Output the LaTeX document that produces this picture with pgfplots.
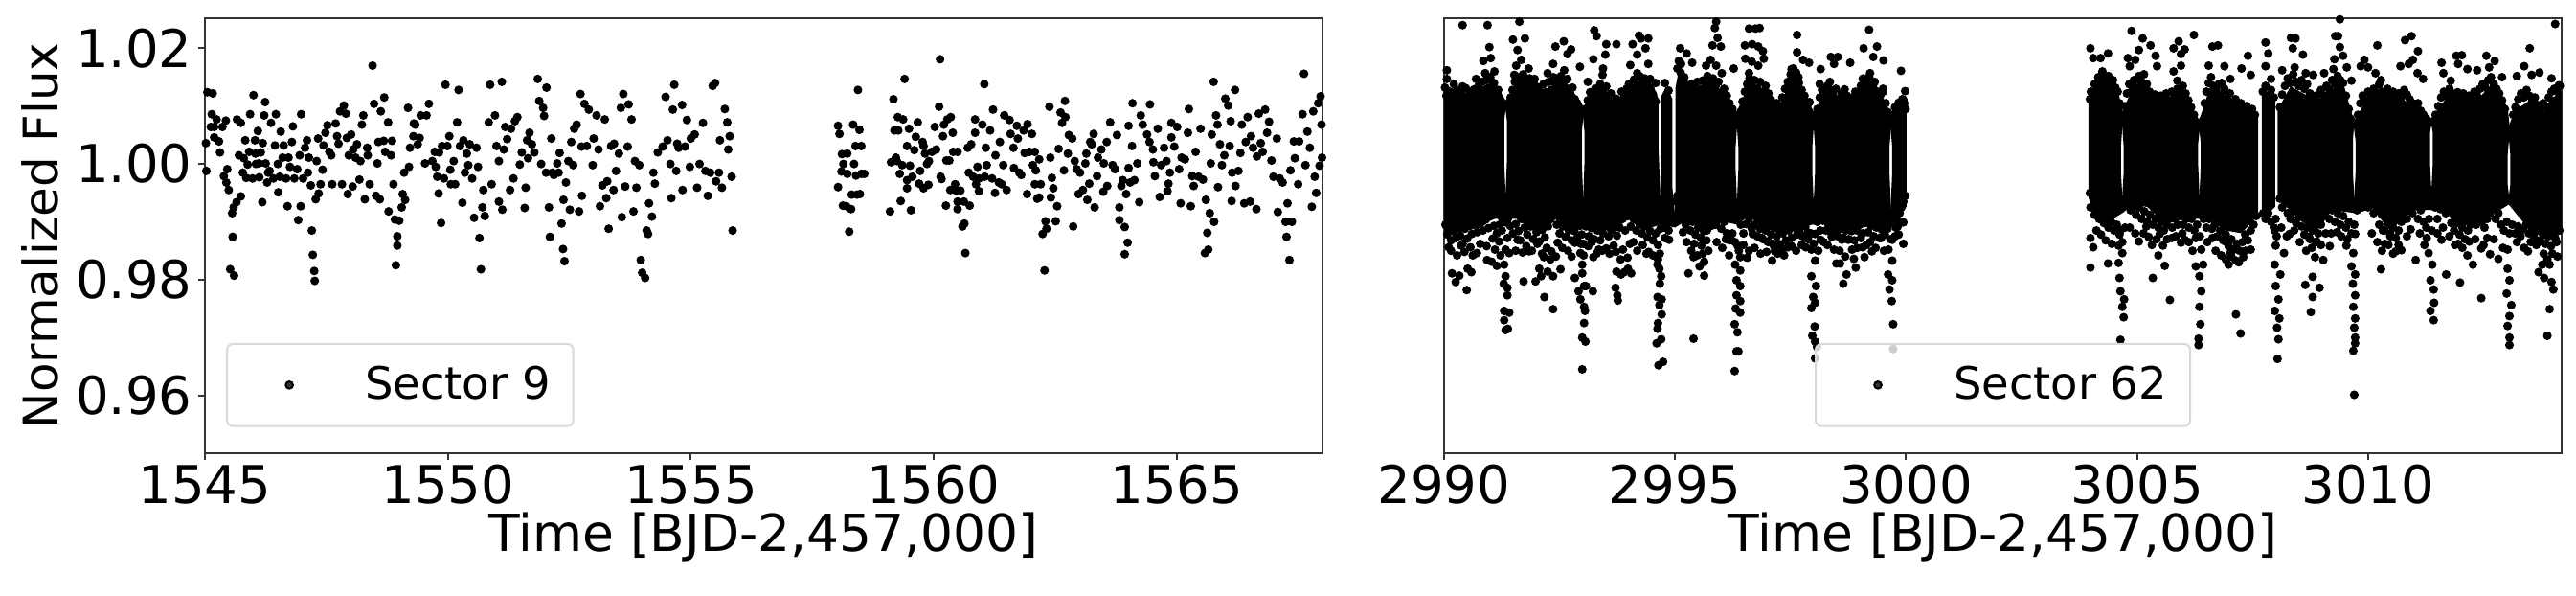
\documentclass[border=0pt]{standalone}
\usepackage{fontspec}
\setmainfont{DejaVu Sans}
\usepackage{pgfplots}
\pgfplotsset{compat=1.18}
\pgfplotsset{
  lc/.style={
    scale only axis, width=11.67cm, height=4.54cm,
    ymin=0.95, ymax=1.0252,
    axis line style={line width=0.2mm, black!80},
    tick style={line width=0.2mm, black!80},
    major tick length=0.7mm, tick pos=lower, tick align=outside,
    ticklabel style={font=\fontsize{15.5}{18}\selectfont},
    xticklabel style={yshift=0.7mm},
    yticklabel style={xshift=0.6mm},
    xlabel style={font=\fontsize{15.2}{18}\selectfont, yshift=1.6mm},
    ylabel style={font=\fontsize{14.2}{17}\selectfont},
    /pgf/number format/assume math mode=true,
    /pgf/number format/1000 sep={},
    legend style={font=\fontsize{13.2}{15}\selectfont, draw=black!15, line width=0.2mm, rounded corners=0.6mm,
      fill=white, fill opacity=0.8, text opacity=1, inner xsep=1.7mm, inner ysep=1.6mm},
    legend image code/.code={\path[draw=none] (0,0) rectangle (12mm,0); \fill[black] (4.8mm,0) circle (0.38mm);},
    xlabel={Time [BJD-2,457,000]},
  },
  pts/.style={only marks, mark=*, mark size=0.38mm, black},
  core/.style={fill=black, draw=black, line width=0.2mm, line join=round, forget plot},
}
\begin{document}
\begin{tikzpicture}
\path[use as bounding box] (-2.14cm,-1.49cm) rectangle (24.76cm,4.73cm);
\begin{axis}[lc, at={(0,0)}, xmin=1545, xmax=1568, xtick={1545,1550,1555,1560,1565},
  ytick={0.96,0.98,1.00,1.02}, yticklabel style={/pgf/number format/fixed, /pgf/number format/fixed zerofill, /pgf/number format/precision=2},
  ylabel={Normalized Flux}, ylabel style={yshift=-0.6mm},
  legend style={at={(0.019,0.06)}, anchor=south west}]
\addplot[pts] coordinates {
(1545.05,1.0124)(1545.16,1.0122)(1545.02,1.0036)(1545.14,1.0086)(1545.12,1.0064)(1545.19,1.0064)(1545.24,1.0077)(1545.03,.9988)(1545.19,1.0046)(1545.29,1.0039)(1545.31,1.0020)(1545.36,1.0064)(1545.43,1.0075)(1545.39,.9979)(1545.46,.9991)(1545.44,.9968)(1545.49,.9955)(1545.56,.9915)(1545.59,.9925)(1545.65,.9934)(1545.57,.9874)(1545.52,.9818)(1545.60,.9807)(1545.66,1.0077)(1545.74,1.0071)(1545.70,1.0015)
(1545.74,.9944)(1545.78,.9985)(1545.85,.9976)(1545.83,1.0041)(1545.91,1.0021)(1545.88,.9999)(1545.93,1.0086)(1546.00,1.0119)(1545.98,.9975)(1546.03,1.0041)(1546.04,1.0018)(1546.09,1.0057)(1546.12,.9977)(1546.18,.9934)(1546.11,1.0001)(1546.19,1.0036)(1546.24,1.0107)(1546.22,1.0084)(1546.25,1.0001)(1546.33,.9988)(1546.36,1.0071)(1546.28,.9968)(1546.41,.9975)(1546.46,1.0086)(1546.44,1.0032)(1546.51,.9951)(1546.56,1.0056)(1546.54,.9978)(1546.62,1.0032)(1546.60,1.0011)(1546.67,.9975)(1546.70,.9927)(1546.72,1.0011)(1546.79,1.0038)(1546.81,1.0065)(1546.84,.9975)(1546.90,.9991)(1546.92,.9903)(1546.97,.9927)(1546.98,1.0086)(1547.02,.9975)(1547.06,1.0028)(1547.10,1.0041)(1547.14,1.0011)(1547.18,.9963)(1547.20,.9885)(1547.22,.9843)(1547.25,.9815)(1547.26,.9798)(1547.28,.9939)(1547.33,1.0044)(1547.34,.9949)(1547.38,.9965)(1547.44,1.0032)(1547.48,1.0054)(1547.52,1.0067)(1547.56,1.0021)(1547.62,.9965)(1547.69,1.0070)(1547.72,1.0048)(1547.78,1.0091)(1547.82,.9965)(1547.86,1.0101)(1547.90,1.0087)(1547.94,.9948)(1547.96,1.0015)(1548.01,1.0051)(1548.04,.9961)(1548.10,1.0011)(1548.13,1.0034)(1548.18,.9973)(1548.23,1.0068)(1548.26,1.0084)(1548.29,.9939)(1548.34,1.0028)(1548.39,.9965)(1548.45,1.0170)(1548.48,1.0104)(1548.52,.9945)(1548.55,1.0001)(1548.57,1.0038)(1548.62,1.0091)(1548.60,.9939)(1548.69,1.0115)(1548.71,1.0021)(1548.77,1.0072)(1548.78,.9918)(1548.83,1.0015)(1548.85,1.0040)(1548.91,.9904)(1548.93,.9825)(1548.96,.9859)(1548.96,.9875)(1549.00,.9902)(1549.05,.9925)(1549.07,.9948)(1549.12,.9938)(1549.18,1.0097)(1549.22,1.0028)(1549.20,.9995)(1549.29,1.0048)(1549.33,1.0068)(1549.38,1.0034)(1549.44,1.0084)(1549.53,1.0001)(1549.56,1.0084)(1549.61,1.0104)(1549.68,1.0005)(1549.73,1.0021)(1549.78,.9978)(1549.81,.9949)(1549.86,.9898)(1549.88,1.0031)(1549.95,1.0137)(1549.99,1.0031)(1550.03,1.0048)(1550.06,.9965)(1550.12,1.0005)(1550.19,1.0072)(1550.22,1.0128)(1550.25,1.0031)(1550.30,.9933)(1550.32,1.0041)(1550.39,1.0018)(1550.42,.9998)(1550.45,1.0034)(1550.54,.9907)(1550.59,1.0028)(1550.65,.9872)(1550.68,.9818)(1550.71,.9925)(1550.73,.9955)(1550.76,.9910)(1550.84,1.0072)(1550.87,1.0137)(1550.90,.9965)(1550.97,1.0084)(1551.00,1.0031)(1551.05,.9935)(1551.11,1.0142)(1551.12,.9921)(1551.18,1.0064)(1551.22,1.0043)(1551.28,.9955)(1551.30,1.0061)(1551.38,1.0074)(1551.43,1.0081)(1551.48,.9999)(1551.58,.9924)(1551.60,.9959)(1551.63,1.0041)(1551.68,1.0054)(1551.73,1.0034)(1551.85,1.0147)(1551.88,1.0109)(1551.96,1.0097)(1551.98,1.0083)(1552.03,1.0132)(1552.08,.9925)(1552.10,.9874)(1552.13,1.0044)(1552.18,.9981)(1552.25,1.0001)(1552.30,1.0019)(1552.34,.9897)(1552.37,.9853)(1552.40,.9832)(1552.38,.9938)(1552.43,.9968)(1552.51,.9921)(1552.54,1.0038)(1552.60,1.0061)(1552.65,1.0068)(1552.70,.9918)(1552.73,1.0121)(1552.76,.9945)(1552.81,1.0104)(1552.86,1.0031)(1552.90,1.0094)(1553.00,1.0044)(1553.06,1.0084)(1553.13,.9927)(1553.18,.9963)(1553.23,1.0077)(1553.26,.9941)(1553.31,.9888)(1553.36,1.0031)(1553.41,.9955)(1553.46,.9988)(1553.52,1.0018)(1553.56,1.0097)(1553.58,.9908)(1553.61,1.0121)(1553.65,.9961)(1553.72,1.0103)(1553.78,1.0077)(1553.82,.9918)(1553.88,.9959)(1553.94,.9998)(1553.97,.9834)(1554.00,.9812)(1554.06,.9803)(1554.09,.9885)(1554.12,.9879)(1554.14,.9932)(1554.20,.9909)(1554.23,.9985)(1554.26,.9966)(1554.48,1.0116)(1554.52,1.0041)(1554.60,.9941)(1554.66,1.0137)(1554.63,1.0094)(1554.70,.9988)(1554.75,1.0028)(1554.82,1.0102)(1554.83,.9955)(1554.92,1.0076)(1555.00,1.0044)(1555.08,1.0051)(1555.13,.9959)(1555.25,1.0071)(1555.30,.9988)(1555.35,.9945)(1555.45,1.0135)(1555.50,1.0140)(1555.52,.9970)(1555.60,1.0041)(1555.64,.9959)(1555.70,1.0095)(1555.75,1.0072)(1555.77,1.0025)(1555.80,1.0048)(1555.84,.9978)(1555.86,.9885)
(1545.80,1.0010)(1546.05,1.0000)(1546.15,1.0020)(1546.30,.9985)(1546.50,1.0000)(1546.75,.9995)(1546.95,1.0015)(1547.12,.9985)(1547.30,1.0005)(1547.42,.9990)(1547.60,1.0015)(1547.75,1.0035)(1547.92,1.0045)(1548.05,1.0025)(1548.20,1.0005)(1548.35,1.0015)(1548.68,1.0040)(1548.88,.9965)(1549.10,.9985)(1549.30,1.0070)(1549.42,1.0045)(1549.75,.9995)(1549.82,1.0020)(1549.92,.9975)(1550.05,.9990)(1550.15,.9965)(1550.35,.9985)(1550.50,.9975)(1550.62,.9995)(1551.05,1.0005)(1551.15,1.0025)(1551.35,.9975)(1551.52,1.0020)(1551.65,1.0010)(1551.78,1.0020)(1551.92,1.0000)(1552.02,.9985)(1552.15,.9985)(1552.28,.9985)(1552.48,1.0005)(1552.58,.9998)(1552.75,1.0030)(1552.98,.9998)(1553.10,1.0025)(1553.28,.9970)(1553.42,1.0035)(1553.70,1.0030)(1553.85,1.0005)(1554.32,1.0020)(1554.42,1.0030)(1554.58,1.0000)(1554.72,1.0035)(1554.88,1.0030)(1554.98,.9995)(1555.18,1.0000)(1555.40,.9985)(1555.58,.9985)
(1558.03,1.0066)(1558.06,1.0052)(1558.03,.9960)(1558.10,.9987)(1558.11,1.0017)(1558.14,1.0000)(1558.13,.9928)(1558.20,.9927)(1558.22,1.0018)(1558.22,.9983)(1558.26,.9883)(1558.30,.9922)(1558.34,1.0068)(1558.36,1.0000)(1558.40,.9980)(1558.31,.9947)(1558.39,1.0031)(1558.42,.9947)(1558.47,1.0059)(1558.48,.9948)(1558.44,1.0128)(1558.51,1.0031)(1558.51,.9983)(1558.57,.9983)
(1559.10,.9918)(1559.12,1.0003)(1559.17,1.0112)(1559.19,1.0058)(1559.22,1.0011)(1559.24,1.0005)(1559.27,1.0058)(1559.26,1.0081)(1559.30,.9983)(1559.32,.9936)(1559.35,.9998)(1559.37,1.0077)(1559.40,1.0147)(1559.45,1.0031)(1559.45,.9972)(1559.45,.9958)(1559.49,1.0061)(1559.51,.9997)(1559.53,.9920)(1559.56,.9978)(1559.60,1.0024)(1559.63,1.0047)(1559.67,1.0072)(1559.70,.9966)(1559.72,.9988)(1559.77,1.0038)(1559.79,1.0031)(1559.79,.9958)(1559.82,1.0018)(1559.86,1.0000)(1559.89,.9964)(1559.90,1.0005)(1559.96,1.0021)(1560.02,1.0064)(1560.05,1.0025)(1560.11,1.0099)(1560.14,.9978)(1560.13,1.0181)(1560.16,.9974)(1560.21,1.0068)(1560.19,1.0048)(1560.25,.9928)(1560.26,1.0006)(1560.28,1.0077)(1560.32,1.0006)(1560.34,.9955)(1560.35,1.0081)(1560.39,1.0054)(1560.40,1.0021)(1560.44,.9965)(1560.46,.9954)(1560.49,1.0021)(1560.49,.9922)(1560.49,.9935)(1560.55,.9954)(1560.59,.9892)(1560.63,.9897)(1560.65,.9846)(1560.62,.9935)(1560.70,1.0028)(1560.72,.9985)(1560.74,.9928)(1560.77,1.0034)(1560.81,.9978)(1560.85,1.0077)(1560.85,1.0054)(1560.87,.9965)(1560.90,.9995)(1560.93,.9953)(1560.93,.9975)(1561.00,1.0068)(1561.04,1.0138)(1561.05,.9978)(1561.07,1.0028)(1561.09,.9998)(1561.16,1.0058)(1561.20,.9975)(1561.22,1.0094)(1561.27,1.0015)(1561.26,.9950)(1561.34,.9968)(1561.36,1.0038)(1561.40,.9965)(1561.45,1.0084)(1561.43,.9998)(1561.50,.9955)(1561.56,1.0076)(1561.58,1.0052)(1561.64,1.0028)(1561.65,.9993)(1561.71,1.0066)(1561.73,1.0044)(1561.76,.9985)(1561.80,.9981)(1561.85,1.0058)(1561.87,1.0019)(1561.93,1.0069)(1561.92,.9948)(1561.97,1.0021)(1562.02,1.0052)(1562.04,.9998)(1562.08,1.0021)(1562.10,.9989)(1562.08,.9965)(1562.13,.9940)(1562.17,.9942)(1562.20,.9965)(1562.17,1.0008)(1562.24,.9879)(1562.28,.9816)(1562.30,.9901)(1562.32,.9888)(1562.38,1.0099)(1562.40,1.0011)(1562.43,.9976)(1562.41,.9942)(1562.46,.9958)(1562.51,.9901)(1562.54,.9927)(1562.57,1.0026)(1562.61,1.0089)(1562.64,1.0071)(1562.68,.9989)(1562.70,1.0109)(1562.71,1.0081)(1562.76,1.0018)(1562.78,1.0050)(1562.85,1.0044)(1562.87,.9892)(1562.90,1.0005)(1562.94,.9991)(1562.98,.9948)(1563.01,.9985)(1563.07,.9955)(1563.12,1.0001)(1563.14,1.0018)(1563.16,.9938)(1563.20,.9966)(1563.22,1.0038)(1563.25,1.0034)(1563.29,1.0052)(1563.31,.9925)(1563.36,.9979)(1563.38,1.0011)(1563.45,1.0025)(1563.49,.9952)(1563.50,1.0001)(1563.56,1.0038)(1563.57,.9962)(1563.63,1.0072)(1563.68,.9998)(1563.73,.9991)(1563.77,1.0050)(1563.82,.9925)(1563.82,.9903)(1563.86,.9962)(1563.89,.9972)(1563.93,.9891)(1563.93,.9844)(1563.99,.9864)(1564.01,1.0066)(1564.01,.9993)(1563.96,.9948)(1564.04,.9968)(1564.08,1.0031)(1564.09,1.0105)(1564.13,.9972)(1564.19,1.0001)(1564.23,.9934)(1564.26,1.0084)(1564.30,1.0068)(1564.39,1.0051)(1564.44,1.0038)(1564.45,1.0103)(1564.51,1.0025)(1564.52,1.0003)(1564.55,.9979)(1564.61,1.0061)(1564.65,.9943)(1564.68,.9998)(1564.74,1.0028)(1564.79,1.0005)(1564.81,.9953)(1564.83,.9966)(1564.86,.9985)(1564.89,1.0071)(1564.89,1.0046)(1564.95,1.0030)(1565.01,1.0064)(1565.05,.9991)(1565.08,.9932)(1565.10,1.0011)(1565.17,1.0008)(1565.23,1.0054)(1565.25,1.0095)(1565.29,.9927)(1565.32,.9979)(1565.35,.9962)(1565.39,1.0021)(1565.45,.9978)(1565.49,1.0061)(1565.54,.9973)(1565.60,.9938)(1565.58,.9846)(1565.63,.9881)(1565.65,.9852)(1565.68,.9915)(1565.70,1.0001)(1565.72,1.0051)(1565.76,1.0142)(1565.77,.9900)(1565.81,1.0084)(1565.84,1.0068)(1565.85,.9960)(1565.89,1.0034)(1565.93,.9998)(1566.00,1.0113)(1565.98,1.0015)(1566.06,1.0101)(1566.11,1.0074)(1566.09,1.0031)(1566.13,.9936)(1566.14,.9985)(1566.20,1.0128)(1566.21,.9962)(1566.27,.9988)(1566.31,1.0019)(1566.34,1.0068)(1566.39,.9932)(1566.42,1.0038)(1566.46,1.0081)(1566.51,.9935)(1566.53,1.0048)(1566.57,1.0028)(1566.64,.9922)(1566.65,1.0013)(1566.69,1.0087)(1566.73,1.0036)(1566.77,1.0021)(1566.82,1.0094)(1566.86,1.0054)(1566.90,1.0073)(1566.95,1.0006)(1566.99,.9978)(1567.06,1.0044)(1567.08,.9917)(1567.12,.9975)(1567.18,.9968)(1567.24,.9900)(1567.26,.9874)(1567.28,.9932)(1567.32,.9834)(1567.34,.9989)(1567.37,.9900)(1567.41,1.0039)(1567.43,1.0010)(1567.50,.9965)(1567.52,1.0039)(1567.59,1.0086)(1567.62,1.0156)(1567.65,.9998)(1567.69,1.0056)(1567.74,1.0028)(1567.78,.9926)(1567.81,1.0091)(1567.84,.9978)(1567.87,.9950)(1567.91,1.0105)(1567.96,1.0117)(1567.94,.9997)(1567.98,1.0068)(1567.99,1.0011)
};
\addlegendentry{Sector 9}
\end{axis}
\begin{axis}[lc, at={(12.94cm,0)}, xmin=2990, xmax=3014.19, xtick={2990,2995,3000,3005,3010}, ytick=\empty,
  legend style={at={(0.5,0.06)}, anchor=south}]
% the solid core of this panel is too overlapped to read point by point: it is drawn as filled bands
% following its read-off outline, not as individual points (the white flecks inside it are not reproduced)
\addplot[core] coordinates {(2990.00,1.0137)(2990.3,1.0117)(2990.6,1.0122)(2990.9,1.0134)(2991.1,1.0137)(2991.33,1.0107)(2991.28,1.0075)(2991.28,1.0005)(2991.33,.9907)(2991.05,.9907)(2990.8,.9892)(2990.5,.9887)(2990.2,.9882)(2990.00,.9887)} --cycle;
\addplot[core] coordinates {(2991.33,.9907)(2991.38,1.0005)(2991.38,1.0075)(2991.33,1.0107)(2991.55,1.0130)(2991.8,1.0140)(2992.0,1.0132)(2992.3,1.0124)(2992.6,1.0137)(2992.85,1.0117)(2993.01,1.0097)(2992.96,1.0055)(2992.96,1.0005)(2993.01,.9897)(2992.7,.9887)(2992.4,.9907)(2992.15,.9882)(2991.9,.9887)(2991.6,.9907)} --cycle;
\addplot[core] coordinates {(2993.01,.9897)(2993.06,1.0005)(2993.06,1.0055)(2993.01,1.0097)(2993.3,1.0124)(2993.7,1.0107)(2994.1,1.0130)(2994.5,1.0137)(2994.62,1.0112)(2994.62,1.0030)(2994.68,.9897)(2994.3,.9887)(2994.0,.9907)(2993.65,.9887)(2993.3,.9887)} --cycle;
\addplot[core] coordinates {(2994.68,.9897)(2994.72,1.0030)(2994.72,1.0117)(2994.82,1.0132)(2994.92,1.0112)(2994.92,.9960)(2995.00,.9892)} --cycle;
\addplot[core] coordinates {(2995.00,.9892)(2995.03,.9960)(2995.03,1.0132)(2995.1,1.0162)(2995.35,1.0132)(2995.8,1.0137)(2996.1,1.0120)(2996.34,1.0087)(2996.29,1.0030)(2996.29,.9990)(2996.34,.9897)(2996.05,.9902)(2995.65,.9887)(2995.3,.9907)} --cycle;
\addplot[core] coordinates {(2996.34,.9897)(2996.39,.9990)(2996.39,1.0030)(2996.34,1.0087)(2996.6,1.0134)(2997.0,1.0127)(2997.25,1.0097)(2997.55,1.0147)(2997.8,1.0117)(2998.0,1.0087)(2997.95,1.0030)(2997.95,.9985)(2998.0,.9897)(2997.55,.9892)(2997.25,.9882)(2996.9,.9892)(2996.6,.9912)} --cycle;
\addplot[core] coordinates {(2998.0,.9897)(2998.05,.9985)(2998.05,1.0030)(2998.0,1.0087)(2998.27,1.0122)(2998.67,1.0107)(2999.14,1.0140)(2999.5,1.0112)(2999.67,1.0077)(2999.62,1.0030)(2999.62,.9985)(2999.67,.9892)(2999.14,.9897)(2998.75,.9887)(2998.35,.9902)} --cycle;
\addplot[core] coordinates {(2999.67,.9892)(2999.72,.9985)(2999.72,1.0030)(2999.67,1.0077)(2999.78,1.0097)(2999.99,1.0102)(2999.99,.9927)(2999.8,.9907)} --cycle;
\addplot[core] coordinates {(3003.97,.9942)(3003.97,1.0117)(3004.2,1.0147)(3004.55,1.0132)(3004.68,1.0087)(3004.63,1.0030)(3004.63,.9985)(3004.68,.9917)(3004.37,.9902)(3004.05,.9922)} --cycle;
\addplot[core] coordinates {(3004.68,.9917)(3004.73,.9985)(3004.73,1.0030)(3004.68,1.0087)(3004.85,1.0117)(3005.08,1.0142)(3005.5,1.0112)(3006.03,1.0117)(3006.35,1.0072)(3006.30,1.0035)(3006.30,1.0000)(3006.35,.9907)(3006.03,.9907)(3005.56,.9902)(3005.24,.9927)(3004.9,.9932)} --cycle;
\addplot[core] coordinates {(3006.35,.9907)(3006.40,1.0000)(3006.40,1.0035)(3006.35,1.0072)(3006.59,1.0130)(3007.14,1.0102)(3007.6,1.0087)(3007.6,.9912)(3007.25,.9882)(3006.9,.9887)(3006.6,.9907)} --cycle;
\addplot[core] coordinates {(3007.72,.9907)(3007.72,1.0117)(3007.97,1.0112)(3007.97,.9927)} --cycle;
\addplot[core] coordinates {(3008.06,.9942)(3008.06,1.0092)(3008.33,1.0132)(3008.89,1.0107)(3009.44,1.0140)(3009.68,1.0072)(3009.65,1.0040)(3009.65,.9985)(3009.70,.9917)(3009.21,.9922)(3008.89,.9887)(3008.57,.9902)} --cycle;
\addplot[core] coordinates {(3009.70,.9917)(3009.75,.9985)(3009.75,1.0040)(3009.70,1.0072)(3010.0,1.0112)(3010.24,1.0127)(3010.71,1.0112)(3011.2,1.0087)(3011.37,1.0077)(3011.32,1.0055)(3011.32,1.0000)(3011.37,.9922)(3010.95,.9922)(3010.48,.9887)(3010.08,.9927)} --cycle;
\addplot[core] coordinates {(3011.37,.9922)(3011.42,1.0000)(3011.42,1.0055)(3011.37,1.0077)(3011.75,1.0117)(3012.38,1.0110)(3012.70,1.0137)(3013.0,1.0097)(3013.05,1.0062)(3013.00,1.0015)(3013.00,.9965)(3013.05,.9932)(3012.54,.9907)(3011.98,.9892)(3011.6,.9927)} --cycle;
\addplot[core] coordinates {(3013.05,.9932)(3013.10,.9965)(3013.10,1.0015)(3013.05,1.0062)(3013.2,1.0092)(3013.49,1.0107)(3013.81,1.0087)(3013.97,1.0112)(3014.19,1.0122)(3014.19,.9882)(3013.81,.9872)(3013.41,.9897)} --cycle;
% first four lines: outliers and dips; remaining lines: hand-placed points that
% approximate the density and spread of the band edges, not individually identified data points
\addplot[pts] coordinates {
(2990.40,1.0240)(2990.94,1.0240)(2991.63,1.0246)(2991.49,1.0215)(2991.75,1.0217)(2990.98,1.0202)(2991.59,1.0197)(2992.41,1.0203)(2992.59,1.0212)(2992.75,1.0198)(2992.67,1.0190)(2993.25,1.0231)(2993.30,1.0221)(2993.51,1.0207)(2993.73,1.0207)(2993.49,1.0189)(2993.23,1.0181)(2994.22,1.0222)(2994.42,1.0217)(2994.26,1.0217)(2994.08,1.0207)(2994.36,1.0200)(2994.18,1.0189)(2994.03,1.0171)(2994.42,1.0173)(2995.89,1.0246)(2995.86,1.0235)(2995.92,1.0218)(2995.81,1.0205)(2995.99,1.0203)(2995.11,1.0200)(2995.25,1.0191)(2995.13,1.0173)(2995.37,1.0175)(2995.67,1.0170)(2995.77,1.0180)(2995.89,1.0170)(2996.01,1.0157)(2996.27,1.0165)(2996.60,1.0234)(2996.74,1.0234)(2996.83,1.0235)(2996.51,1.0205)(2996.67,1.0207)(2996.80,1.0203)(2996.90,1.0195)(2996.52,1.0182)(2996.66,1.0177)(2996.92,1.0182)(2996.80,1.0170)(2996.60,1.0157)(2997.64,1.0223)(2997.64,1.0193)(2997.77,1.0180)(2997.90,1.0175)(2997.52,1.0164)(2998.15,1.0164)(2998.37,1.0185)(2998.52,1.0185)(2998.44,1.0173)(2998.79,1.0175)(2999.20,1.0232)(2999.08,1.0200)(2999.37,1.0203)(2999.29,1.0185)(2999.51,1.0179)(2999.89,1.0161)(2999.98,1.0126)(2999.22,1.0157)(2999.06,1.0147)(2999.94,1.0111)(2990.85,1.0178)(2991.01,1.0183)(2990.89,1.0157)(2991.09,1.0160)(2990.69,1.0147)(2990.40,1.0134)(2990.21,1.0138)(2990.06,1.0162)(2990.06,1.0147)(2991.56,1.0170)(2991.67,1.0180)(2991.83,1.0165)(2991.52,1.0154)(2991.96,1.0147)(2992.24,1.0157)(2992.36,1.0173)(2992.60,1.0162)(2992.40,1.0140)(2992.67,1.0147)(2992.94,1.0168)(2993.11,1.0142)(2993.44,1.0165)(2993.43,1.0154)(2993.35,1.0130)(2993.51,1.0134)(2994.46,1.0147)(2994.58,1.0140)(2994.78,1.0140)(2994.86,1.0127)(2994.18,1.0157)(2993.94,1.0124)(2997.56,1.0165)(2997.67,1.0150)(2997.91,1.0107)(2998.13,1.0138)(2998.35,1.0142)(2998.67,1.0129)(2998.39,1.0127)(2998.98,1.0109)(2999.30,1.0130)(2999.50,1.0130)
(2990.17,.9811)(2990.25,.9796)(2990.33,.9807)(2990.51,.9819)(2990.59,.9813)(2990.49,.9782)(2990.10,.9856)(2990.37,.9859)(2990.57,.9856)(2990.71,.9846)(2990.93,.9834)(2991.03,.9831)(2991.14,.9824)(2991.05,.9871)(2991.19,.9866)(2991.33,.9899)(2991.25,.9885)(2991.37,.9872)(2991.33,.9852)(2991.41,.9846)(2991.30,.9826)(2991.33,.9806)(2991.29,.9793)(2991.37,.9786)(2991.37,.9773)(2991.30,.9746)(2991.41,.9743)(2991.30,.9730)(2991.33,.9713)(2991.38,.9715)(2991.59,.9869)(2991.70,.9847)(2991.84,.9849)(2991.72,.9797)(2991.98,.9797)(2992.10,.9806)(2992.06,.9819)(2992.24,.9814)(2992.36,.9806)(2992.52,.9818)(2992.17,.9770)(2992.36,.9749)(2992.46,.9864)(2992.32,.9849)(2992.16,.9839)(2992.83,.9803)(2992.83,.9864)(2992.95,.9846)(2992.99,.9826)(2992.99,.9811)(2992.91,.9780)(2993.03,.9789)(2993.07,.9789)(2993.22,.9780)(2992.95,.9766)(2993.03,.9753)(2993.05,.9746)(2993.03,.9725)(2992.99,.9700)(2993.06,.9693)(2992.99,.9645)(2993.71,.9786)(2993.75,.9773)(2993.76,.9764)(2993.73,.9814)(2993.83,.9809)(2993.90,.9813)(2993.98,.9819)(2994.05,.9811)(2993.35,.9852)(2993.23,.9839)(2993.51,.9854)(2993.67,.9859)(2993.87,.9852)(2993.97,.9838)(2994.02,.9862)(2994.43,.9848)(2994.62,.9826)(2994.66,.9819)(2994.70,.9806)(2994.67,.9793)(2994.62,.9770)(2994.71,.9766)(2994.66,.9756)(2994.71,.9740)(2994.63,.9725)(2994.62,.9715)(2994.70,.9697)(2994.60,.9690)(2994.74,.9658)(2994.64,.9652)(2994.78,.9872)(2994.87,.9869)(2994.86,.9885)(2995.17,.9921)(2995.17,.9882)(2995.29,.9811)(2995.40,.9839)(2995.41,.9862)(2995.53,.9823)(2995.63,.9831)(2995.63,.9807)(2995.40,.9698)(2995.57,.9859)(2995.69,.9885)(2995.81,.9894)(2996.17,.9842)(2996.21,.9869)(2996.35,.9859)(2996.41,.9839)(2996.56,.9838)(2996.30,.9826)(2996.41,.9816)(2996.33,.9799)(2996.41,.9789)(2996.33,.9773)(2996.41,.9763)(2996.31,.9750)(2996.41,.9743)(2996.29,.9723)(2996.35,.9709)(2996.33,.9676)(2996.37,.9676)(2996.29,.9642)(2996.68,.9879)(2996.88,.9872)(2997.00,.9866)(2997.12,.9862)(2997.24,.9862)(2997.44,.9856)(2997.36,.9842)(2997.16,.9849)(2997.10,.9833)(2997.70,.9904)(2997.87,.9882)(2998.03,.9879)(2998.15,.9869)(2997.83,.9856)(2997.95,.9852)(2998.03,.9833)(2997.95,.9806)(2998.05,.9789)(2997.99,.9770)(2998.03,.9760)(2997.95,.9751)(2998.02,.9719)(2997.97,.9703)(2998.03,.9693)(2998.07,.9684)(2998.03,.9664)(2998.35,.9889)(2998.47,.9887)(2998.39,.9874)(2998.61,.9869)(2998.44,.9852)(2998.49,.9828)(2998.57,.9828)(2998.71,.9809)(2998.64,.9793)(2998.75,.9869)(2998.83,.9852)(2998.87,.9836)(2998.91,.9821)(2999.02,.9872)(2999.06,.9856)(2999.10,.9839)(2999.26,.9849)(2999.70,.9869)(2999.62,.9852)(2999.70,.9833)(2999.61,.9809)(2999.70,.9799)(2999.64,.9783)(2999.69,.9763)(2999.72,.9723)(2999.72,.9680)(2999.46,.9872)(2999.94,.9862)(2999.82,.9892)(2999.94,.9899)
(3003.99,1.0200)(3004.05,1.0183)(3004.21,1.0183)(3004.37,1.0191)(3004.25,1.0160)(3004.88,1.0230)(3005.12,1.0217)(3005.29,1.0205)(3005.04,1.0197)(3004.80,1.0183)(3004.96,1.0180)(3005.40,1.0187)(3005.43,1.0169)(3004.84,1.0169)(3005.90,1.0212)(3006.23,1.0223)(3005.79,1.0200)(3006.03,1.0198)(3005.95,1.0190)(3005.79,1.0160)(3005.95,1.0170)(3005.87,1.0144)(3006.63,1.0203)(3006.75,1.0205)(3006.55,1.0170)(3006.89,1.0169)(3007.40,1.0187)(3007.26,1.0165)(3007.46,1.0154)(3007.02,1.0147)(3006.83,1.0140)(3007.78,1.0210)(3007.84,1.0191)(3007.78,1.0169)(3007.90,1.0147)(3008.14,1.0162)(3008.33,1.0218)(3008.43,1.0217)(3008.37,1.0200)(3008.59,1.0189)(3008.41,1.0167)(3008.65,1.0157)(3008.81,1.0154)(3009.05,1.0157)(3009.39,1.0250)(3009.29,1.0221)(3009.35,1.0221)(3009.39,1.0202)(3009.27,1.0181)(3009.46,1.0187)(3009.54,1.0167)(3009.25,1.0164)(3009.64,1.0144)(3009.92,1.0180)(3009.84,1.0169)(3010.20,1.0205)(3010.00,1.0167)(3010.16,1.0157)(3010.28,1.0145)(3010.80,1.0214)(3010.94,1.0221)(3011.08,1.0195)(3010.97,1.0180)(3010.70,1.0169)(3010.88,1.0173)(3011.07,1.0157)(3011.19,1.0147)(3011.59,1.0175)(3011.63,1.0157)(3011.91,1.0187)(3012.03,1.0188)(3011.95,1.0173)(3012.15,1.0164)(3012.36,1.0162)(3011.79,1.0144)(3012.56,1.0187)(3012.74,1.0178)(3012.62,1.0167)(3012.90,1.0150)(3013.50,1.0200)(3013.38,1.0169)(3013.54,1.0154)(3013.71,1.0158)(3013.22,1.0152)(3014.05,1.0242)(3013.97,1.0148)(3014.13,1.0136)(3013.89,1.0089)
(3003.99,.9872)(3004.05,.9856)(3003.99,.9821)(3004.37,.9828)(3004.64,.9885)(3004.60,.9859)(3004.68,.9846)(3004.60,.9829)(3004.62,.9803)(3004.64,.9780)(3004.72,.9766)(3004.68,.9753)(3004.71,.9735)(3004.64,.9696)(3005.04,.9866)(3005.20,.9892)(3005.25,.9874)(3005.49,.9879)(3005.56,.9859)(3005.46,.9842)(3005.60,.9824)(3005.34,.9803)(3005.71,.9765)(3005.95,.9864)(3006.03,.9869)(3005.75,.9872)(3006.27,.9872)(3006.39,.9852)(3006.27,.9823)(3006.43,.9826)(3006.35,.9806)(3006.39,.9780)(3006.35,.9753)(3006.37,.9723)(3006.33,.9698)(3006.33,.9687)(3006.63,.9872)(3006.91,.9866)(3007.02,.9846)(3006.98,.9826)(3007.14,.9833)(3007.30,.9839)(3007.46,.9852)(3007.14,.9740)(3007.24,.9707)(3007.98,.9885)(3008.00,.9859)(3008.18,.9846)(3007.98,.9826)(3008.10,.9809)(3008.00,.9789)(3008.06,.9766)(3007.98,.9746)(3008.08,.9733)(3008.03,.9717)(3008.06,.9697)(3008.04,.9663)(3008.30,.9879)(3008.72,.9874)(3008.89,.9866)(3008.85,.9839)(3009.03,.9834)(3008.80,.9805)(3008.64,.9791)(3008.95,.9786)(3008.80,.9770)(3008.76,.9744)(3009.17,.9858)(3009.33,.9882)(3009.53,.9859)(3009.72,.9879)(3009.68,.9846)(3009.64,.9823)(3009.72,.9809)(3009.67,.9793)(3009.72,.9773)(3009.68,.9753)(3009.72,.9733)(3009.70,.9717)(3009.72,.9700)(3009.72,.9690)(3009.68,.9677)(3009.70,.9601)(3010.36,.9862)(3010.60,.9849)(3010.72,.9851)(3010.28,.9818)(3010.32,.9885)(3010.48,.9879)(3011.03,.9834)(3010.92,.9887)(3011.27,.9872)(3011.59,.9869)(3011.31,.9846)(3011.39,.9826)(3011.35,.9799)(3011.42,.9783)(3011.43,.9760)(3011.35,.9746)(3011.42,.9730)(3011.69,.9809)(3011.99,.9795)(3011.95,.9862)(3012.19,.9866)(3012.15,.9842)(3012.27,.9826)(3012.45,.9768)(3012.45,.9854)(3012.64,.9844)(3012.58,.9872)(3012.82,.9836)(3013.02,.9852)(3013.02,.9819)(3013.06,.9799)(3013.00,.9776)(3013.10,.9756)(3013.06,.9737)(3013.02,.9720)(3013.06,.9700)(3013.06,.9687)(3013.30,.9885)(3013.46,.9849)(3013.58,.9882)(3013.73,.9866)(3013.77,.9826)(3013.69,.9813)(3013.93,.9826)(3013.97,.9796)(3013.81,.9803)(3014.01,.9783)(3013.93,.9749)(3013.88,.9703)(3014.05,.9872)
(2990.02,1.0132)(2990.05,1.0118)(2990.09,1.0108)(2990.12,1.0125)(2990.16,1.0112)(2990.20,1.0119)(2990.24,1.0106)(2990.28,1.0128)(2990.33,1.0115)(2990.37,1.0122)(2990.42,1.0110)(2990.47,1.0131)(2990.51,1.0117)(2990.56,1.0125)(2990.60,1.0113)(2990.65,1.0129)(2990.70,1.0118)(2990.74,1.0134)(2990.78,1.0121)(2990.82,1.0142)(2990.86,1.0128)(2990.91,1.0145)(2990.95,1.0131)(2991.00,1.0150)(2991.04,1.0136)(2991.08,1.0140)(2991.13,1.0122)(2991.17,1.0128)(2991.21,1.0109)(2991.25,1.0098)
(2990.03,.9895)(2990.07,.9878)(2990.11,.9887)(2990.15,.9868)(2990.20,.9884)(2990.25,.9872)(2990.30,.9890)(2990.35,.9876)(2990.40,.9862)(2990.45,.9888)(2990.50,.9871)(2990.55,.9893)(2990.60,.9879)(2990.66,.9896)(2990.72,.9882)(2990.78,.9899)(2990.84,.9885)(2990.90,.9904)(2990.96,.9889)(2991.02,.9910)(2991.08,.9893)(2991.14,.9880)(2991.20,.9895)(2991.26,.9905)
(2991.40,1.0098)(2991.44,1.0115)(2991.48,1.0128)(2991.53,1.0142)(2991.58,1.0130)(2991.62,1.0150)(2991.66,1.0138)(2991.71,1.0155)(2991.76,1.0142)(2991.80,1.0135)(2991.85,1.0148)(2991.90,1.0130)(2991.95,1.0138)(2992.00,1.0125)(2992.05,1.0132)(2992.10,1.0120)(2992.15,1.0138)(2992.20,1.0124)(2992.26,1.0142)(2992.31,1.0128)(2992.37,1.0150)(2992.42,1.0133)(2992.47,1.0146)(2992.53,1.0152)(2992.58,1.0138)(2992.63,1.0145)(2992.68,1.0130)(2992.73,1.0122)(2992.78,1.0132)(2992.83,1.0112)(2992.88,1.0105)(2992.93,1.0090)
(2991.38,.9905)(2991.43,.9893)(2991.49,.9880)(2991.55,.9896)(2991.61,.9884)(2991.67,.9905)(2991.74,.9890)(2991.80,.9878)(2991.87,.9892)(2991.93,.9870)(2992.00,.9882)(2992.06,.9866)(2992.12,.9886)(2992.18,.9873)(2992.25,.9892)(2992.31,.9905)(2992.38,.9915)(2992.44,.9895)(2992.50,.9880)(2992.57,.9892)(2992.63,.9874)(2992.70,.9885)(2992.76,.9868)(2992.82,.9884)(2992.88,.9872)(2992.94,.9893)(2992.98,.9878)(2993.02,.9862)(2993.02,.9842)(2992.96,.9862)
(2993.07,1.0095)(2993.11,1.0110)(2993.16,1.0124)(2993.22,1.0117)(2993.27,1.0130)(2993.33,1.0122)(2993.38,1.0138)(2993.44,1.0127)(2993.50,1.0118)(2993.55,1.0110)(2993.61,1.0122)(2993.67,1.0104)(2993.72,1.0113)(2993.78,1.0108)(2993.84,1.0125)(2993.89,1.0115)(2993.95,1.0130)(2994.00,1.0138)(2994.06,1.0128)(2994.11,1.0146)(2994.17,1.0135)(2994.23,1.0152)(2994.28,1.0140)(2994.34,1.0148)(2994.40,1.0135)(2994.46,1.0132)(2994.52,1.0120)(2994.58,1.0108)
(2993.07,.9892)(2993.13,.9875)(2993.19,.9889)(2993.25,.9870)(2993.32,.9885)(2993.38,.9868)(2993.44,.9880)(2993.50,.9893)(2993.56,.9875)(2993.62,.9885)(2993.68,.9892)(2993.74,.9876)(2993.80,.9890)(2993.86,.9905)(2993.92,.9885)(2993.98,.9910)(2994.04,.9892)(2994.10,.9905)(2994.16,.9885)(2994.22,.9898)(2994.28,.9880)(2994.34,.9892)(2994.40,.9873)(2994.46,.9884)(2994.52,.9868)(2994.58,.9880)(2994.63,.9860)(2994.67,.9845)(2994.63,.9835)(2994.68,.9888)(2994.75,.9890)(2994.82,.9895)(2994.90,.9905)(2994.95,.9935)(2994.97,.9900)
(2995.05,1.0165)(2995.08,1.0178)(2995.12,1.0158)(2995.16,1.0142)(2995.20,1.0150)(2995.25,1.0135)(2995.30,1.0128)(2995.36,1.0138)(2995.42,1.0130)(2995.48,1.0142)(2995.53,1.0127)(2995.59,1.0144)(2995.65,1.0135)(2995.70,1.0152)(2995.76,1.0140)(2995.82,1.0148)(2995.88,1.0135)(2995.94,1.0142)(2996.00,1.0124)(2996.06,1.0130)(2996.12,1.0118)(2996.18,1.0105)(2996.24,1.0095)(2996.28,1.0082)
(2995.05,.9945)(2995.09,.9925)(2995.13,.9905)(2995.18,.9920)(2995.23,.9895)(2995.28,.9905)(2995.33,.9885)(2995.38,.9900)(2995.44,.9878)(2995.50,.9890)(2995.56,.9872)(2995.62,.9884)(2995.68,.9868)(2995.75,.9892)(2995.82,.9912)(2995.88,.9895)(2995.94,.9905)(2996.00,.9888)(2996.06,.9900)(2996.12,.9880)(2996.18,.9868)(2996.24,.9880)(2996.30,.9865)(2996.38,.9850)
(2996.42,1.0090)(2996.46,1.0108)(2996.51,1.0125)(2996.56,1.0138)(2996.61,1.0148)(2996.67,1.0135)(2996.72,1.0145)(2996.78,1.0130)(2996.84,1.0142)(2996.90,1.0125)(2996.96,1.0135)(2997.02,1.0122)(2997.08,1.0110)(2997.14,1.0098)(2997.20,1.0105)(2997.26,1.0092)(2997.32,1.0115)(2997.38,1.0130)(2997.44,1.0142)(2997.50,1.0155)(2997.56,1.0148)(2997.62,1.0158)(2997.68,1.0140)(2997.74,1.0128)(2997.80,1.0118)(2997.86,1.0100)(2997.92,1.0085)
(2996.42,.9895)(2996.48,.9880)(2996.54,.9896)(2996.60,.9905)(2996.66,.9888)(2996.72,.9895)(2996.78,.9875)(2996.84,.9888)(2996.90,.9870)(2996.96,.9885)(2997.02,.9865)(2997.08,.9878)(2997.14,.9858)(2997.20,.9875)(2997.27,.9860)(2997.33,.9880)(2997.40,.9868)(2997.46,.9885)(2997.52,.9872)(2997.58,.9890)(2997.64,.9878)(2997.70,.9888)(2997.76,.9875)(2997.82,.9892)(2997.88,.9870)(2997.94,.9880)(2998.00,.9862)
(2998.08,1.0095)(2998.13,1.0115)(2998.18,1.0128)(2998.24,1.0120)(2998.30,1.0135)(2998.36,1.0125)(2998.42,1.0118)(2998.48,1.0130)(2998.54,1.0112)(2998.60,1.0122)(2998.66,1.0110)(2998.72,1.0118)(2998.78,1.0105)(2998.84,1.0115)(2998.90,1.0125)(2998.96,1.0118)(2999.02,1.0135)(2999.08,1.0148)(2999.14,1.0140)(2999.20,1.0150)(2999.26,1.0135)(2999.32,1.0142)(2999.38,1.0125)(2999.44,1.0118)(2999.50,1.0125)(2999.56,1.0105)(2999.60,1.0090)
(2998.08,.9900)(2998.14,.9885)(2998.20,.9902)(2998.26,.9885)(2998.32,.9895)(2998.38,.9880)(2998.45,.9892)(2998.52,.9875)(2998.58,.9888)(2998.64,.9872)(2998.70,.9885)(2998.76,.9870)(2998.82,.9884)(2998.88,.9868)(2998.94,.9885)(2999.00,.9895)(2999.06,.9880)(2999.12,.9898)(2999.18,.9882)(2999.24,.9893)(2999.30,.9875)(2999.36,.9890)(2999.42,.9872)(2999.48,.9886)(2999.54,.9878)(2999.60,.9888)(2999.66,.9870)
(2999.72,1.0085)(2999.76,1.0098)(2999.80,1.0092)(2999.84,1.0106)(2999.88,1.0100)(2999.92,1.0112)(2999.96,1.0105)(2999.99,1.0095)(2999.74,.9905)(2999.78,.9890)(2999.82,.9902)(2999.86,.9915)(2999.90,.9925)(2999.94,.9935)(2999.98,.9945)(2999.76,.9875)(2999.84,.9878)
(3003.98,1.0112)(3004.00,1.0125)(3004.04,1.0118)(3004.08,1.0138)(3004.12,1.0130)(3004.16,1.0150)(3004.20,1.0142)(3004.24,1.0155)(3004.29,1.0148)(3004.33,1.0140)(3004.38,1.0152)(3004.43,1.0135)(3004.48,1.0145)(3004.53,1.0132)(3004.58,1.0125)(3004.62,1.0105)(3004.65,1.0085)
(3003.98,.9950)(3003.99,.9925)(3004.04,.9925)(3004.08,.9912)(3004.13,.9930)(3004.18,.9905)(3004.23,.9915)(3004.28,.9898)(3004.33,.9908)(3004.38,.9890)(3004.44,.9900)(3004.50,.9885)(3004.56,.9895)(3004.62,.9878)(3004.68,.9865)(3004.74,.9890)
(3004.74,1.0100)(3004.78,1.0122)(3004.83,1.0138)(3004.88,1.0125)(3004.93,1.0145)(3004.98,1.0132)(3005.04,1.0152)(3005.09,1.0142)(3005.15,1.0155)(3005.21,1.0138)(3005.27,1.0125)(3005.33,1.0112)(3005.39,1.0120)(3005.45,1.0108)(3005.51,1.0118)(3005.57,1.0115)(3005.63,1.0122)(3005.69,1.0110)(3005.75,1.0125)(3005.81,1.0118)(3005.87,1.0130)(3005.93,1.0122)(3005.99,1.0135)(3006.05,1.0122)(3006.11,1.0110)(3006.17,1.0098)(3006.23,1.0085)(3006.28,1.0072)
(3004.74,.9930)(3004.80,.9935)(3004.86,.9920)(3004.92,.9930)(3004.98,.9912)(3005.04,.9925)(3005.10,.9905)(3005.16,.9918)(3005.22,.9900)(3005.28,.9912)(3005.34,.9895)(3005.40,.9905)(3005.46,.9890)(3005.52,.9900)(3005.58,.9885)(3005.64,.9895)(3005.70,.9905)(3005.76,.9890)(3005.82,.9905)(3005.88,.9895)(3005.94,.9910)(3006.00,.9895)(3006.06,.9905)(3006.12,.9890)(3006.18,.9905)(3006.24,.9885)(3006.30,.9895)(3006.36,.9875)
(3006.42,1.0075)(3006.46,1.0105)(3006.50,1.0125)(3006.55,1.0140)(3006.60,1.0150)(3006.65,1.0135)(3006.71,1.0128)(3006.77,1.0138)(3006.83,1.0120)(3006.89,1.0130)(3006.95,1.0112)(3007.01,1.0122)(3007.07,1.0105)(3007.13,1.0112)(3007.19,1.0098)(3007.25,1.0105)(3007.31,1.0090)(3007.37,1.0100)(3007.43,1.0088)(3007.49,1.0095)(3007.55,1.0085)
(3006.44,.9905)(3006.50,.9890)(3006.56,.9905)(3006.62,.9888)(3006.68,.9895)(3006.74,.9875)(3006.80,.9885)(3006.86,.9868)(3006.92,.9878)(3006.98,.9858)(3007.04,.9870)(3007.10,.9852)(3007.16,.9862)(3007.22,.9850)(3007.28,.9865)(3007.34,.9878)(3007.40,.9868)(3007.46,.9885)(3007.52,.9895)(3007.58,.9910)
(3007.72,1.0125)(3007.78,1.0135)(3007.84,1.0118)(3007.90,1.0128)(3007.96,1.0115)(3007.73,.9915)(3007.78,.9905)(3007.84,.9915)(3007.90,.9900)(3007.96,.9890)(3008.02,.9875)(3008.00,.9905)
(3008.09,1.0098)(3008.14,1.0120)(3008.20,1.0135)(3008.26,1.0148)(3008.32,1.0140)(3008.38,1.0155)(3008.44,1.0142)(3008.50,1.0135)(3008.56,1.0145)(3008.62,1.0130)(3008.68,1.0138)(3008.74,1.0122)(3008.80,1.0118)(3008.86,1.0110)(3008.92,1.0120)(3008.98,1.0128)(3009.04,1.0118)(3009.10,1.0135)(3009.16,1.0128)(3009.22,1.0145)(3009.28,1.0138)(3009.34,1.0152)(3009.40,1.0145)(3009.46,1.0140)(3009.52,1.0118)(3009.58,1.0095)(3009.62,1.0078)
(3008.09,.9940)(3008.14,.9925)(3008.20,.9935)(3008.26,.9915)(3008.32,.9905)(3008.38,.9918)(3008.44,.9898)(3008.50,.9908)(3008.56,.9892)(3008.62,.9878)(3008.68,.9890)(3008.74,.9870)(3008.80,.9885)(3008.86,.9865)(3008.92,.9880)(3008.98,.9895)(3009.04,.9910)(3009.10,.9920)(3009.16,.9905)(3009.22,.9920)(3009.28,.9900)(3009.34,.9915)(3009.40,.9895)(3009.46,.9910)(3009.52,.9890)(3009.58,.9900)(3009.64,.9880)(3009.70,.9895)
(3009.78,1.0085)(3009.83,1.0105)(3009.88,1.0118)(3009.94,1.0110)(3010.00,1.0125)(3010.06,1.0118)(3010.12,1.0130)(3010.18,1.0124)(3010.24,1.0138)(3010.30,1.0125)(3010.36,1.0118)(3010.42,1.0130)(3010.48,1.0118)(3010.54,1.0125)(3010.60,1.0112)(3010.66,1.0122)(3010.72,1.0115)(3010.78,1.0128)(3010.84,1.0120)(3010.90,1.0112)(3010.96,1.0105)(3011.02,1.0098)(3011.08,1.0105)(3011.14,1.0092)(3011.20,1.0085)(3011.26,1.0078)
(3009.76,.9920)(3009.82,.9935)(3009.88,.9925)(3009.94,.9940)(3010.00,.9925)(3010.06,.9935)(3010.12,.9915)(3010.18,.9925)(3010.24,.9895)(3010.30,.9912)(3010.36,.9885)(3010.42,.9898)(3010.48,.9875)(3010.54,.9890)(3010.60,.9872)(3010.66,.9885)(3010.72,.9900)(3010.78,.9915)(3010.84,.9905)(3010.90,.9925)(3010.96,.9915)(3011.02,.9930)(3011.08,.9905)(3011.14,.9920)(3011.20,.9900)(3011.26,.9890)(3011.32,.9905)(3011.38,.9885)
(3011.46,1.0085)(3011.52,1.0100)(3011.58,1.0115)(3011.64,1.0125)(3011.70,1.0118)(3011.76,1.0130)(3011.82,1.0122)(3011.88,1.0112)(3011.94,1.0124)(3012.00,1.0115)(3012.06,1.0122)(3012.12,1.0110)(3012.18,1.0118)(3012.24,1.0112)(3012.30,1.0125)(3012.36,1.0118)(3012.42,1.0130)(3012.48,1.0138)(3012.54,1.0132)(3012.60,1.0145)(3012.66,1.0150)(3012.72,1.0138)(3012.78,1.0130)(3012.84,1.0122)(3012.90,1.0110)(3012.96,1.0095)
(3011.45,.9925)(3011.50,.9905)(3011.56,.9922)(3011.62,.9935)(3011.68,.9915)(3011.74,.9925)(3011.80,.9898)(3011.86,.9885)(3011.92,.9898)(3011.98,.9878)(3012.04,.9890)(3012.10,.9870)(3012.16,.9885)(3012.22,.9895)(3012.28,.9908)(3012.34,.9895)(3012.40,.9915)(3012.46,.9900)(3012.52,.9890)(3012.58,.9905)(3012.64,.9915)(3012.70,.9925)(3012.76,.9905)(3012.82,.9915)(3012.88,.9895)(3012.94,.9885)(3013.00,.9900)(3013.06,.9880)
(3013.14,1.0085)(3013.19,1.0098)(3013.25,1.0112)(3013.31,1.0122)(3013.37,1.0115)(3013.43,1.0128)(3013.49,1.0118)(3013.55,1.0108)(3013.61,1.0115)(3013.67,1.0102)(3013.73,1.0095)(3013.79,1.0105)(3013.85,1.0098)(3013.91,1.0115)(3013.97,1.0125)(3014.03,1.0130)(3014.09,1.0125)(3014.15,1.0135)
(3013.12,.9895)(3013.18,.9880)(3013.24,.9892)(3013.30,.9875)(3013.36,.9888)(3013.42,.9895)(3013.48,.9880)(3013.54,.9892)(3013.60,.9872)(3013.66,.9885)(3013.72,.9868)(3013.78,.9880)(3013.84,.9862)(3013.90,.9875)(3013.96,.9858)(3014.02,.9878)(3014.08,.9865)(3014.14,.9885)
(2990.15,.9850)(2990.28,.9842)(2990.44,.9848)(2990.62,.9842)(2990.78,.9862)(2990.92,.9858)(2991.10,.9852)(2991.22,.9842)(2991.55,.9850)(2991.65,.9868)(2991.78,.9858)(2991.90,.9850)(2992.02,.9862)(2992.12,.9845)(2992.22,.9855)(2992.30,.9835)(2992.42,.9840)(2992.56,.9855)(2992.68,.9850)(2992.76,.9840)(2993.12,.9858)(2993.20,.9865)(2993.30,.9845)(2993.42,.9850)(2993.58,.9845)(2993.72,.9848)(2993.82,.9835)(2994.10,.9865)(2994.18,.9850)(2994.30,.9860)(2994.38,.9845)(2994.52,.9842)
(2995.25,.9865)(2995.35,.9850)(2995.48,.9842)(2995.60,.9845)(2995.72,.9850)(2995.90,.9865)(2996.02,.9855)(2996.10,.9870)(2996.48,.9860)(2996.60,.9850)(2996.72,.9855)(2996.85,.9845)(2996.98,.9848)(2997.22,.9845)(2997.32,.9850)(2997.52,.9858)(2997.62,.9850)(2997.74,.9860)(2998.10,.9850)(2998.22,.9865)(2998.30,.9860)(2998.56,.9850)(2998.68,.9840)(2998.94,.9855)(2999.14,.9860)(2999.22,.9865)(2999.34,.9855)(2999.52,.9850)
(3004.12,.9885)(3004.22,.9878)(3004.32,.9868)(3004.45,.9862)(3004.84,.9890)(3004.96,.9880)(3005.14,.9880)(3005.32,.9860)(3005.42,.9870)(3005.65,.9870)(3005.84,.9875)(3005.98,.9880)(3006.12,.9865)(3006.20,.9850)(3006.52,.9865)(3006.70,.9850)(3006.82,.9842)(3006.92,.9835)(3007.04,.9840)(3007.20,.9830)(3007.35,.9850)
(3008.12,.9890)(3008.24,.9875)(3008.40,.9885)(3008.52,.9865)(3008.66,.9850)(3008.78,.9855)(3008.98,.9860)(3009.08,.9880)(3009.20,.9880)(3009.42,.9875)(3009.55,.9870)(3010.08,.9880)(3010.20,.9865)(3010.30,.9850)(3010.44,.9860)(3010.54,.9845)(3010.66,.9860)(3010.84,.9875)(3011.12,.9880)(3011.22,.9860)(3011.50,.9880)(3011.62,.9890)(3011.76,.9875)(3011.88,.9860)(3012.04,.9855)(3012.32,.9870)(3012.50,.9860)(3012.72,.9870)(3012.92,.9855)
(3013.22,.9865)(3013.38,.9855)(3013.52,.9865)(3013.64,.9860)(3013.80,.9845)(3013.88,.9835)(3013.99,.9845)(3014.10,.9840)
};
\addlegendentry{Sector 62}
\end{axis}
\end{tikzpicture}
\end{document}
